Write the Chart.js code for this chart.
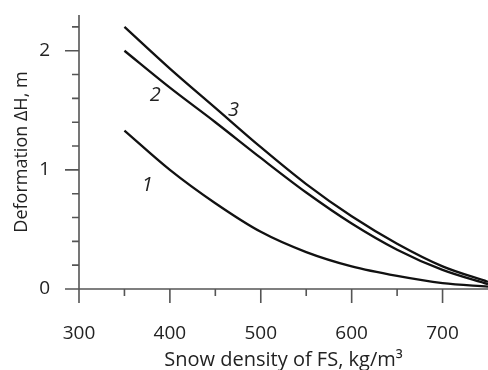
<!DOCTYPE html>
<html><head><meta charset="utf-8">
<script src="https://cdn.jsdelivr.net/npm/chart.js@4/dist/chart.umd.min.js"></script>
<style>html,body{margin:0;padding:0;background:#fff}</style>
</head><body>
<canvas id="c" width="488" height="370"></canvas>
<script>
const density=[350,400,450,500,550,600,650,700,750];
const curve1=[1.33,1.00,0.72,0.48,0.31,0.19,0.11,0.05,0.02];
const curve2=[2.00,1.69,1.40,1.10,0.81,0.55,0.33,0.16,0.04];
const curve3=[2.20,1.85,1.52,1.19,0.88,0.61,0.38,0.19,0.06];
const curveNames=['1','2','3'];
const nameAt=[[375,0.87],[384,1.63],[470,1.50]];

const FONT='"Open Sans", "DejaVu Sans", sans-serif';
const pts=arr=>density.map((d,i)=>({x:d,y:arr[i]}));
const isInt=v=>Math.abs(v-Math.round(v))<1e-6;

// axis lines + tick marks drawn from the scales (major ticks longer than minor ones)
const axesPlugin={id:'axes',afterDraw(chart){
  const ctx=chart.ctx,xs=chart.scales.x,ys=chart.scales.y;
  const x0=xs.getPixelForValue(300),y0=ys.getPixelForValue(0);
  ctx.save();ctx.strokeStyle='#555';ctx.lineWidth=1.6;ctx.beginPath();
  ctx.moveTo(x0,ys.top);ctx.lineTo(x0,y0+14);
  ctx.moveTo(x0-14,y0);ctx.lineTo(xs.right,y0);
  ys.ticks.forEach(t=>{if(t.value<=0)return;const p=ys.getPixelForValue(t.value);ctx.moveTo(x0-(isInt(t.value)?14:7),p);ctx.lineTo(x0,p);});
  xs.ticks.forEach(t=>{if(t.value<=300||t.value>=750)return;const p=xs.getPixelForValue(t.value);ctx.moveTo(p,y0);ctx.lineTo(p,y0+(t.value%100===0?14:7));});
  ctx.stroke();
  ctx.fillStyle='#222';ctx.font='italic 20px '+FONT;ctx.textAlign='center';ctx.textBaseline='middle';
  nameAt.forEach((p,i)=>ctx.fillText(curveNames[i],xs.getPixelForValue(p[0]),ys.getPixelForValue(p[1])));
  ctx.restore();
}};

const ds=(arr)=>({data:pts(arr),borderColor:'#111',borderWidth:2.3,pointRadius:0,cubicInterpolationMode:'monotone',fill:false});

new Chart(document.getElementById('c'),{
  type:'line',
  data:{datasets:[ds(curve1),ds(curve2),ds(curve3)]},
  options:{responsive:false,animation:false,devicePixelRatio:1,
    layout:{padding:{top:15,right:0,left:0,bottom:0}},
    plugins:{legend:{display:false},tooltip:{enabled:false}},
    scales:{
      x:{type:'linear',min:300,max:750,
        afterFit(s){s.height=81;s.paddingLeft=0;s.paddingRight=0;},
        grid:{display:false,drawTicks:false},border:{display:false},
        ticks:{stepSize:50,autoSkip:false,maxRotation:0,includeBounds:false,padding:33,color:'#222',font:{family:FONT,size:19},
          callback:v=>v%100===0?String(v):''},
        title:{display:true,text:'Snow density of FS, kg/m³',color:'#222',font:{family:FONT,size:20},padding:{top:0,bottom:-2}}},
      y:{min:0,max:2.3,
        afterFit(s){s.width=79;s.paddingTop=0;s.paddingBottom=0;},
        grid:{display:false,drawTicks:false},border:{display:false},
        ticks:{stepSize:0.2,autoSkip:false,includeBounds:false,padding:29,color:'#222',font:{family:FONT,size:19},
          callback:v=>isInt(v)?String(Math.round(v)):''},
        title:{display:true,text:'Deformation ΔH, m',color:'#222',font:{family:FONT,size:18},padding:{top:11,bottom:0}}}
    }},
  plugins:[axesPlugin]
});
</script>
</body></html>
